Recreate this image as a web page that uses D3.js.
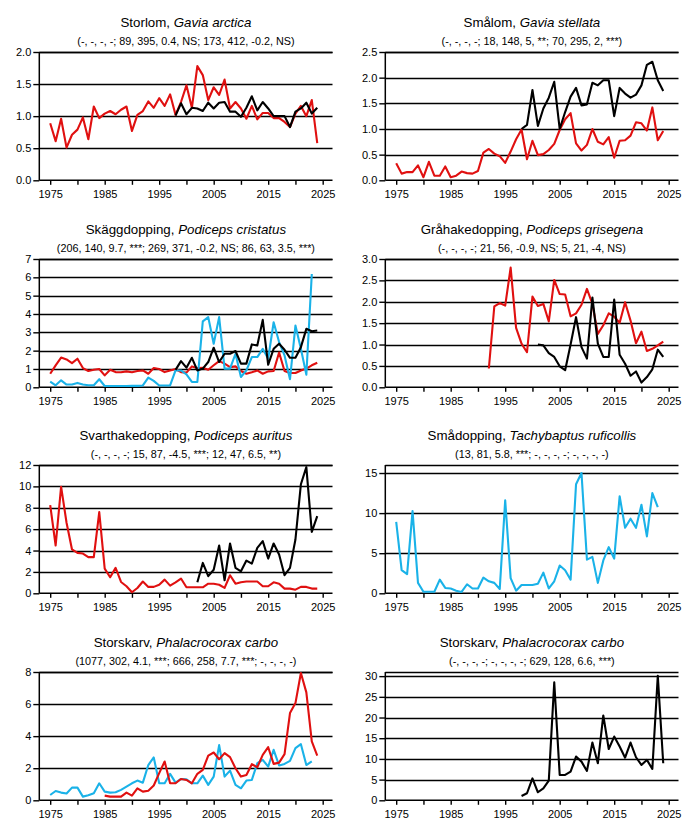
<!DOCTYPE html>
<html><head><meta charset="utf-8">
<script src="https://cdn.jsdelivr.net/npm/d3@7"></script>
<style>
body{margin:0;background:#fff;}
svg{display:block;font-family:"Liberation Sans",Arial,sans-serif;}
</style></head>
<body><svg id="c" width="692" height="827"></svg>
<script>
// ---- data ----
const yearTicks = [1975,1980,1985,1990,1995,2000,2005,2010,2015,2020,2025];
const yearLabels = [1975,1985,1995,2005,2015,2025];

const titles = [
  ["Storlom, ","Gavia arctica"],
  ["Smålom, ","Gavia stellata"],
  ["Skäggdopping, ","Podiceps cristatus"],
  ["Gråhakedopping, ","Podiceps grisegena"],
  ["Svarthakedopping, ","Podiceps auritus"],
  ["Smådopping, ","Tachybaptus ruficollis"],
  ["Storskarv, ","Phalacrocorax carbo"],
  ["Storskarv, ","Phalacrocorax carbo"]
];
const subtitles = [
  "(-, -, -, -; 89, 395, 0.4, NS; 173, 412, -0.2, NS)",
  "(-, -, -, -; 18, 148, 5, **; 70, 295, 2, ***)",
  "(206, 140, 9.7, ***; 269, 371, -0.2, NS; 86, 63, 3.5, ***)",
  "(-, -, -, -; 21, 56, -0.9, NS; 5, 21, -4, NS)",
  "(-, -, -, -; 15, 87, -4.5, ***; 12, 47, 6.5, **)",
  "(13, 81, 5.8, ***; -, -, -, -; -, -, -, -)",
  "(1077, 302, 4.1, ***; 666, 258, 7.7, ***; -, -, -, -)",
  "(-, -, -, -; -, -, -, -; 629, 128, 6.6, ***)"
];
const yMax = [2, 2.5, 7, 3, 12, 16, 8, 31];
const yTicks = [
  [0,0.5,1,1.5,2],
  [0,0.5,1,1.5,2,2.5],
  [0,1,2,3,4,5,6,7],
  [0,0.5,1,1.5,2,2.5,3],
  [0,2,4,6,8,10,12],
  [0,5,10,15],
  [0,2,4,6,8],
  [0,5,10,15,20,25,30]
];
const yDecimals = [1,1,0,1,0,0,0,0];

// Storlom
const storlomRedStart = 1975;
const storlomRed = [0.89,0.61,0.96,0.51,0.71,0.79,0.98,0.64,1.15,0.97,1.04,1.08,1.03,1.10,1.15,0.77,1.02,1.08,1.23,1.13,1.28,1.16,1.34,1.02,1.22,1.48,1.13,1.78,1.64,1.25,1.45,1.33,1.57,1.12,1.22,1.12,0.96,1.16,0.95,1.05,1.05,0.97,0.97,0.91,0.83,1.04,1.16,1.00,1.25,0.58];
const storlomBlackStart = 1998;
const storlomBlack = [1.01,1.20,1.03,1.13,1.12,1.08,1.21,1.12,1.21,1.22,1.07,1.07,0.99,1.13,1.31,1.09,1.22,1.12,1.00,1.00,1.00,0.83,1.07,1.12,1.21,1.04,1.13];

// Smålom
const smalomRedStart = 1975;
const smalomRed = [0.33,0.13,0.16,0.16,0.29,0.06,0.36,0.09,0.09,0.27,0.06,0.09,0.17,0.14,0.13,0.18,0.54,0.61,0.52,0.47,0.34,0.56,0.80,0.99,0.41,0.77,0.49,0.51,0.59,0.71,0.98,1.19,1.31,0.72,0.58,0.69,1.00,0.75,0.70,0.84,0.44,0.77,0.78,0.87,1.13,1.11,0.97,1.42,0.78,0.96];
const smalomBlackStart = 1998;
const smalomBlack = [1.00,1.08,1.76,1.06,1.40,1.61,1.92,1.00,1.33,1.63,1.80,1.46,1.48,1.90,1.85,1.95,1.95,1.25,1.80,1.69,1.61,1.67,1.85,2.25,2.31,1.95,1.74];

// Skäggdopping
const skaggRedStart = 1975;
const skaggRed = [0.74,1.20,1.62,1.52,1.32,1.56,1.05,0.89,0.96,1.00,0.65,0.96,0.83,0.82,0.87,0.82,0.89,0.92,0.74,1.05,1.00,0.83,0.92,1.00,0.83,0.80,1.14,1.05,1.07,0.96,1.20,1.43,1.29,1.10,1.14,0.89,0.74,0.82,0.92,0.74,0.87,0.89,1.90,0.89,0.78,0.78,0.92,1.02,1.20,1.34];
const skaggCyanStart = 1975;
const skaggCyan = [0.31,0.11,0.38,0.15,0.15,0.24,0.15,0.11,0.11,0.44,0.07,0.07,0.07,0.07,0.07,0.08,0.08,0.10,0.53,0.35,0.10,0.10,0.10,0.92,0.92,0.70,0.29,0.29,3.60,3.83,2.38,3.83,1.02,1.02,1.83,0.56,0.92,1.65,1.65,2.10,1.56,3.55,2.47,1.74,0.44,3.37,2.10,0.69,6.18];
const skaggBlackStart = 1998;
const skaggBlack = [0.95,1.43,1.07,1.61,0.92,1.02,1.38,2.16,1.38,1.83,1.83,1.98,1.29,1.29,2.34,2.28,3.68,1.23,2.10,2.38,2.05,1.61,1.61,2.19,3.19,3.06,3.10];

// Gråhakedopping
const grahakeRedStart = 1992;
const grahakeRed = [0.44,1.89,1.97,1.91,2.80,1.39,1.02,0.82,2.12,1.90,1.95,1.54,2.51,2.18,2.17,1.66,1.73,1.93,2.30,1.95,1.25,1.45,1.73,1.65,1.51,1.99,1.56,1.03,1.30,0.85,0.90,0.98,1.07];
const grahakeBlackStart = 2001;
const grahakeBlack = [1.00,0.98,0.80,0.71,0.49,0.40,1.00,1.64,0.94,0.67,2.10,1.02,0.71,0.71,2.05,0.76,0.55,0.27,0.37,0.11,0.24,0.42,0.88,0.71];

// Svarthakedopping
const svartRedStart = 1975;
const svartRed = [8.25,4.47,9.97,6.60,4.10,3.78,3.72,3.38,3.38,7.60,2.31,1.50,2.38,1.06,0.66,0.10,0.50,1.10,0.60,0.60,0.80,1.28,0.72,1.03,1.38,0.56,0.56,0.56,0.56,0.90,0.90,0.80,0.50,1.69,0.90,1.03,1.10,1.10,1.10,0.66,0.66,1.03,0.90,0.44,0.44,0.34,0.60,0.60,0.44,0.44];
const svartBlackStart = 2002;
const svartBlack = [1.03,2.84,1.60,2.20,4.47,1.22,4.66,2.38,2.06,3.06,2.78,4.25,4.88,3.25,4.66,3.63,1.69,2.38,5.03,10.20,11.80,5.75,7.22];

// Smådopping
const smadoppCyanStart = 1975;
const smadoppCyan = [8.9,2.9,2.4,10.25,1.3,0.2,0.2,0.2,1.7,0.67,0.6,0.33,0.17,1.13,0.6,0.6,1.96,1.5,1.3,0.54,11.6,1.9,0.33,1.04,1.04,1.04,1.2,2.58,0.6,1.5,3.46,2.88,1.7,13.6,15.0,4.2,4.54,1.3,4.1,5.75,4.33,12.1,8.17,9.3,8.17,11.04,7.1,12.5,10.75];

// Storskarv (left)
const skarvCyanStart = 1975;
const skarvCyan = [0.33,0.58,0.48,0.42,0.79,0.79,0.23,0.31,0.44,1.06,0.54,0.48,0.50,0.65,0.85,1.06,1.23,1.10,2.20,2.67,1.06,1.06,1.65,1.10,1.33,1.31,1.06,1.06,1.54,0.96,1.48,3.44,1.48,1.85,0.96,0.75,1.23,1.27,2.31,2.52,2.10,3.15,2.17,2.27,2.46,3.25,3.50,2.20,2.42];
const skarvRedStart = 1985;
const skarvRed = [0.29,0.23,0.23,0.23,0.48,0.29,0.75,0.54,0.60,0.92,1.69,2.42,1.06,1.06,1.33,1.27,1.06,1.65,1.90,2.79,2.98,2.56,2.94,2.69,2.00,1.48,1.58,2.25,2.06,2.83,3.31,2.27,2.35,2.88,5.44,6.06,7.94,6.73,3.67,2.79];

// Storskarv (right)
const skarv2BlackStart = 1998;
const skarv2Black = [1.05,1.7,5.3,1.94,2.9,4.76,28.5,6.13,6.13,6.94,10.56,9.35,7.1,13.95,8.95,20.5,12.4,15.4,13.0,10.3,13.95,10.4,8.55,9.76,7.58,30.1,8.95];

const RED = "#e01010", BLACK = "#000000", CYAN = "#1ab2e8";
const panelSeries = [
  [[storlomRedStart,storlomRed,RED],[storlomBlackStart,storlomBlack,BLACK]],
  [[smalomRedStart,smalomRed,RED],[smalomBlackStart,smalomBlack,BLACK]],
  [[skaggRedStart,skaggRed,RED],[skaggCyanStart,skaggCyan,CYAN],[skaggBlackStart,skaggBlack,BLACK]],
  [[grahakeRedStart,grahakeRed,RED],[grahakeBlackStart,grahakeBlack,BLACK]],
  [[svartRedStart,svartRed,RED],[svartBlackStart,svartBlack,BLACK]],
  [[smadoppCyanStart,smadoppCyan,CYAN]],
  [[skarvCyanStart,skarvCyan,CYAN],[skarvRedStart,skarvRed,RED]],
  [[skarv2BlackStart,skarv2Black,BLACK]]
];

// ---- drawing ----
const svg = d3.select("#c");
const panelW = 346;
const rowTops = [0,207,413,620];
const L = 39.3, R = 332.5, T = 52, B = 180.3;
const FONT = "'Liberation Sans',Arial,sans-serif";

panelSeries.forEach((series, i) => {
  const col = i % 2, row = Math.floor(i / 2);
  const g = svg.append("g").attr("transform", `translate(${col*panelW},${rowTops[row]})`);
  const x = d3.scaleLinear().domain([1973, 2026.8]).range([L, R]);
  const y = d3.scaleLinear().domain([0, yMax[i]]).range([B, T]);
  const cx = (L + R) / 2;

  // title
  const t = g.append("text").attr("x", cx).attr("y", 27).attr("text-anchor","middle")
    .attr("font-size", 13.3).attr("fill","#000");
  t.append("tspan").text(titles[i][0]);
  t.append("tspan").attr("font-style","italic").text(titles[i][1]);
  g.append("text").attr("x", cx).attr("y", 44.5).attr("text-anchor","middle")
    .attr("font-size", 10.8).attr("fill","#000").text(subtitles[i]);

  // gridlines
  g.append("g").selectAll("line").data(yTicks[i].filter(v => v > 0).concat([yMax[i]]))
    .join("line").attr("x1", L).attr("x2", R)
    .attr("y1", d => Math.round(y(d)) + 0.5).attr("y2", d => Math.round(y(d)) + 0.5)
    .attr("stroke", "#000").attr("stroke-width", 1.4);

  // y axis
  const ya = d3.axisLeft(y).tickValues(yTicks[i]).tickSize(6).tickPadding(2)
    .tickFormat(d3.format(yDecimals[i] ? ".1f" : "d"));
  const yg = g.append("g").attr("transform", `translate(${L},0)`).call(ya);
  yg.select(".domain").remove();
  yg.selectAll("line").attr("stroke-width", 1.4);
  yg.selectAll("text").attr("font-size", 11).attr("fill", "#000").attr("font-family", FONT);
  g.append("line").attr("x1", L).attr("x2", L).attr("y1", T).attr("y2", B)
    .attr("stroke", "#000").attr("stroke-width", 1.5);

  // x axis
  const xa = d3.axisBottom(x).tickValues(yearTicks).tickSize(4.5).tickPadding(5)
    .tickFormat(d => yearLabels.includes(d) ? d : "");
  const xg = g.append("g").attr("transform", `translate(0,${B})`).call(xa);
  xg.select(".domain").remove();
  xg.selectAll("line").attr("stroke-width", 1.4);
  xg.selectAll("text").attr("font-size", 11).attr("fill", "#000").attr("font-family", FONT);
  g.append("line").attr("x1", L).attr("x2", R).attr("y1", B).attr("y2", B)
    .attr("stroke", "#000").attr("stroke-width", 1.5);

  // series
  const line = d3.line().x(d => x(d[0])).y(d => y(d[1]));
  series.forEach(([start, vals, color]) => {
    const pts = vals.map((v, k) => [start + k, v]);
    g.append("path").datum(pts).attr("d", line).attr("fill", "none")
      .attr("stroke", color).attr("stroke-width", 2.1).attr("stroke-linejoin", "round");
  });
});
</script></body></html>
